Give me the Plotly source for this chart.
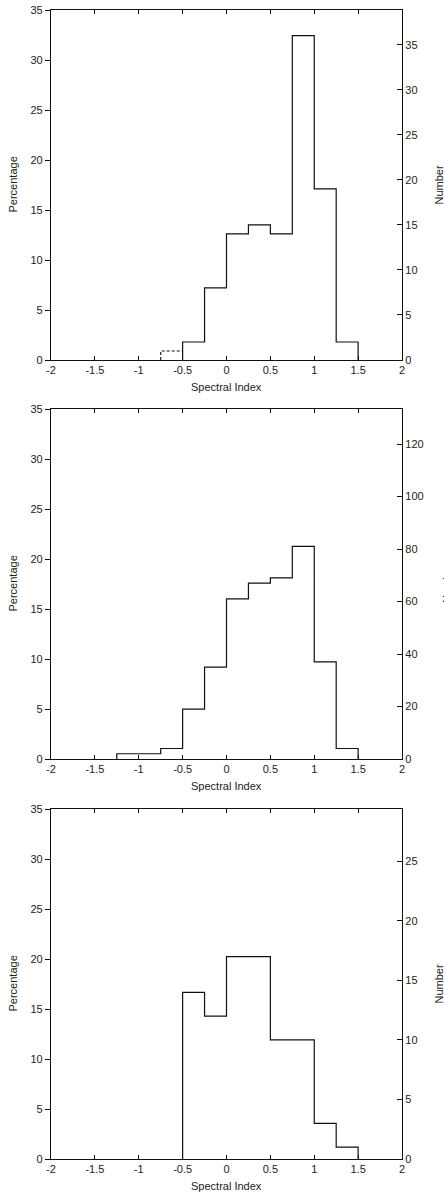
import plotly.graph_objects as go
from plotly.subplots import make_subplots

# Bin edges in spectral index (0.25 wide bins)
edges_a = [-0.5, -0.25, 0.0, 0.25, 0.5, 0.75, 1.0, 1.25, 1.5]
counts_a = [2, 8, 14, 15, 14, 36, 19, 2]
# extra dashed bin in the first sample
dashed_edges_a = [-0.75, -0.5]
dashed_counts_a = [1]

edges_b = [-1.25, -1.0, -0.75, -0.5, -0.25, 0.0, 0.25, 0.5, 0.75, 1.0, 1.25, 1.5]
counts_b = [2, 2, 4, 19, 35, 61, 67, 69, 81, 37, 4]

edges_c = [-0.5, -0.25, 0.0, 0.25, 0.5, 0.75, 1.0, 1.25, 1.5]
counts_c = [14, 12, 17, 17, 10, 10, 3, 1]

x_tickvals = [-2, -1.5, -1, -0.5, 0, 0.5, 1, 1.5, 2]
x_ticktext = ["-2", "-1.5", "-1", "-0.5", "0", "0.5", "1", "1.5", "2"]
pct_tickvals = [0, 5, 10, 15, 20, 25, 30, 35]
num_dtick = [5, 20, 5]

W, H = 444, 1193
FONT = "Liberation Sans, Arial, Helvetica, sans-serif"
FS = 11
TXT = "#222222"
LINE = "#111111"

# plot-area pixel boxes (left, right, top, bottom)
X0, X1 = 51, 402
panels_px = [(10, 360), (409, 759), (809, 1159)]


def step_xy(edges, values):
    xs = [edges[0]] + list(edges)
    ys = [0] + list(values) + [0]
    return xs, ys


fig = make_subplots(rows=3, cols=1, specs=[[{"secondary_y": True}]] * 3)

samples = [
    (edges_a, counts_a, sum(counts_a) + sum(dashed_counts_a)),
    (edges_b, counts_b, sum(counts_b)),
    (edges_c, counts_c, sum(counts_c)),
]

axis_common = dict(showgrid=False, zeroline=False, automargin=False,
                   tickcolor=LINE, tickwidth=1,
                   showline=True, linecolor=LINE, linewidth=1.2,
                   tickfont=dict(family=FONT, size=FS, color=TXT))

for i, (edges, counts, total) in enumerate(samples):
    row = i + 1
    pct = [100.0 * c / total for c in counts]
    xs, ys = step_xy(edges, pct)
    fig.add_trace(go.Scatter(x=xs, y=ys, mode="lines", line_shape="hv",
                             line=dict(color=LINE, width=1.2),
                             showlegend=False, hoverinfo="skip"),
                  row=row, col=1, secondary_y=False)
    if i == 0:
        dpct = [100.0 * c / total for c in dashed_counts_a]
        dxs = [dashed_edges_a[0]] + dashed_edges_a
        dys = [0] + dpct + [dpct[-1]]
        fig.add_trace(go.Scatter(x=dxs, y=dys, mode="lines", line_shape="hv",
                                 line=dict(color=LINE, width=1.1, dash="3px,2px"),
                                 showlegend=False, hoverinfo="skip"),
                      row=row, col=1, secondary_y=False)
    # counts on the right-hand axis (same scaling as percentage)
    num_max = 0.35 * total
    fig.add_trace(go.Scatter(x=[-2], y=[0], mode="markers", marker=dict(opacity=0),
                             showlegend=False, hoverinfo="skip"),
                  row=row, col=1, secondary_y=True)

    top, bot = panels_px[i]
    ydom = [1 - bot / H, 1 - top / H]
    fig.update_xaxes(domain=[X0 / W, X1 / W], range=[-2, 2],
                     tickvals=x_tickvals, ticktext=x_ticktext,
                     ticks="inside", ticklen=4, mirror="ticks",
                     ticklabelstandoff=0,
                     row=row, col=1, **axis_common)
    fig.update_yaxes(domain=ydom, range=[0, 35], tickvals=pct_tickvals,
                     ticks="outside", ticklen=5,
                     row=row, col=1, secondary_y=False, **axis_common)
    fig.update_yaxes(domain=ydom, range=[0, num_max], dtick=num_dtick[i], tick0=0,
                     ticks="inside", ticklen=5,
                     row=row, col=1, secondary_y=True, **axis_common)

    cy = (top + bot) / 2
    fig.add_annotation(text="Spectral Index", xref="paper", yref="paper",
                       x=(X0 + X1) / 2 / W, y=1 - (bot + 27) / H,
                       showarrow=False, xanchor="center", yanchor="middle",
                       font=dict(family=FONT, size=FS, color=TXT))
    fig.add_annotation(text="Percentage", xref="paper", yref="paper",
                       x=12.5 / W, y=1 - cy / H, textangle=-90,
                       showarrow=False, xanchor="center", yanchor="middle",
                       font=dict(family=FONT, size=FS, color=TXT))
    num_x = [438.5, 447.0, 438.5][i]
    fig.add_annotation(text="Number", xref="paper", yref="paper",
                       x=num_x / W, y=1 - cy / H, textangle=-90,
                       showarrow=False, xanchor="center", yanchor="middle",
                       font=dict(family=FONT, size=FS, color=TXT))

fig.update_layout(template="none", width=W, height=H,
                  margin=dict(l=0, r=0, t=0, b=0, autoexpand=False),
                  paper_bgcolor="white", plot_bgcolor="white",
                  showlegend=False)

fig.write_html("out.html")
